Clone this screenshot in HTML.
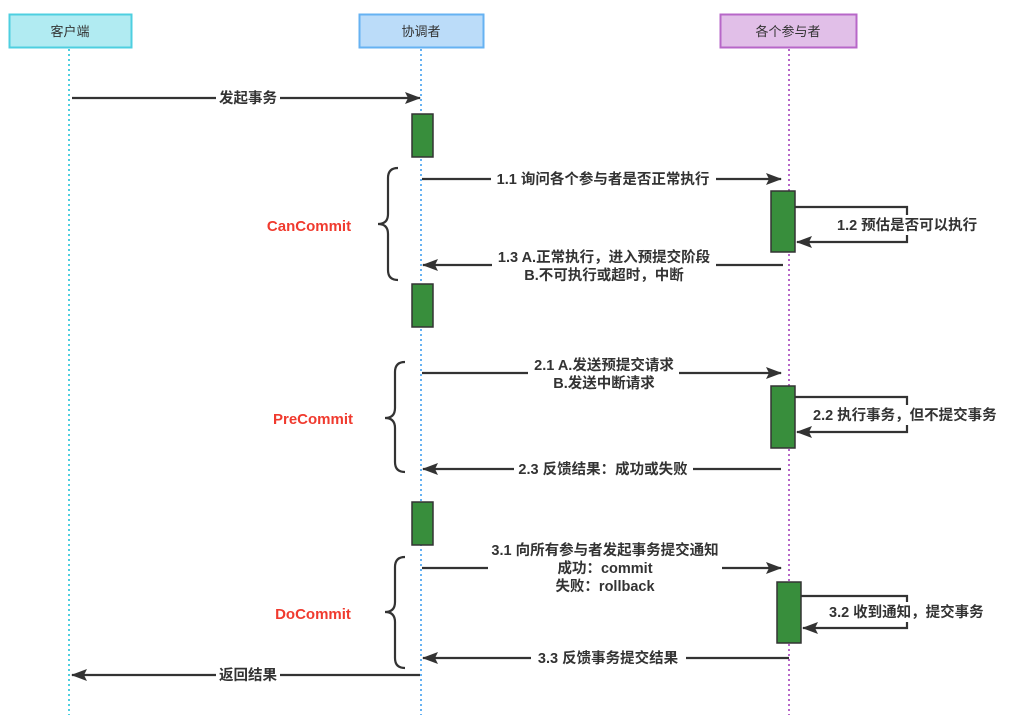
<!DOCTYPE html>
<html><head><meta charset="utf-8"><style>
html,body{margin:0;padding:0;background:#fff;}
svg{display:block;}
text{font-family:"Liberation Sans","Noto Sans CJK SC",sans-serif;font-size:13px;fill:#333;}
.b{font-weight:bold;font-size:14.5px;}
.r{fill:#f03a2e;font-weight:bold;font-size:15px;}
</style></head><body>
<svg width="1010" height="728" viewBox="0 0 1010 728" xmlns="http://www.w3.org/2000/svg">
<defs>
<marker id="a" markerWidth="16" markerHeight="12" refX="15" refY="6" orient="auto" markerUnits="userSpaceOnUse">
<path d="M0,0 L16,6 L0,12 L3,6 Z" fill="#333"/>
</marker>
</defs>
<rect x="9.5" y="14.5" width="122" height="33" fill="#b1ebf2" stroke="#4ecfe0" stroke-width="2"/>
<text x="70" y="36" text-anchor="middle">客户端</text>
<rect x="359.5" y="14.5" width="124" height="33" fill="#bbdcf9" stroke="#66b2f2" stroke-width="2"/>
<text x="421" y="36" text-anchor="middle">协调者</text>
<rect x="720.5" y="14.5" width="136" height="33" fill="#e1bfe8" stroke="#b767c8" stroke-width="2"/>
<text x="788" y="36" text-anchor="middle">各个参与者</text>
<line x1="69" y1="49" x2="69" y2="715" stroke="#4ecfe0" stroke-width="2" stroke-dasharray="2,3"/>
<line x1="421" y1="49" x2="421" y2="715" stroke="#66b2f2" stroke-width="2" stroke-dasharray="2,3"/>
<line x1="789" y1="49" x2="789" y2="715" stroke="#b767c8" stroke-width="2" stroke-dasharray="2,3"/>
<g fill="#388e3c" stroke="#333" stroke-width="1.5">
<rect x="412" y="114" width="21" height="43"/>
<rect x="412" y="284" width="21" height="43"/>
<rect x="412" y="502" width="21" height="43"/>
<rect x="771" y="191" width="24" height="61"/>
<rect x="771" y="386" width="24" height="62"/>
<rect x="777" y="582" width="24" height="61"/>
</g>
<g stroke="#333" stroke-width="2.2" fill="none">
<line x1="72" y1="98" x2="420" y2="98" marker-end="url(#a)"/>
<line x1="422" y1="179" x2="781" y2="179" marker-end="url(#a)"/>
<polyline points="795,207 907,207 907,242 797,242" marker-end="url(#a)"/>
<line x1="783" y1="265" x2="423" y2="265" marker-end="url(#a)"/>
<line x1="422" y1="373" x2="781" y2="373" marker-end="url(#a)"/>
<polyline points="795,397 907,397 907,432 797,432" marker-end="url(#a)"/>
<line x1="781" y1="469" x2="423" y2="469" marker-end="url(#a)"/>
<line x1="422" y1="568" x2="488" y2="568"/>
<line x1="722" y1="568" x2="781" y2="568" marker-end="url(#a)"/>
<polyline points="801,596 907,596 907,628 803,628" marker-end="url(#a)"/>
<line x1="789" y1="658" x2="423" y2="658" marker-end="url(#a)"/>
<line x1="420" y1="675" x2="72" y2="675" marker-end="url(#a)"/>
<path d="M398,168 Q388,168 388,178 L388,214 Q388,224 378,224 Q388,224 388,234 L388,270 Q388,280 398,280"/>
<path d="M405,362 Q395,362 395,372 L395,408 Q395,418 385,418 Q395,418 395,428 L395,462 Q395,472 405,472"/>
<path d="M405,557 Q395,557 395,567 L395,602 Q395,612 385,612 Q395,612 395,622 L395,658 Q395,668 405,668"/>
</g>
<g fill="#fff">
<rect x="216" y="89" width="64" height="18"/>
<rect x="491" y="170" width="225" height="18"/>
<rect x="832" y="215" width="150" height="20"/>
<rect x="492" y="247" width="224" height="36"/>
<rect x="528" y="355" width="151" height="36"/>
<rect x="808" y="405" width="196" height="20"/>
<rect x="514" y="460" width="179" height="18"/>
<rect x="824" y="602" width="168" height="20"/>
<rect x="531" y="649" width="155" height="18"/>
<rect x="216" y="666" width="64" height="18"/>
</g>
<text x="248" y="103" text-anchor="middle" class="b">发起事务</text>
<text x="603" y="184" text-anchor="middle" class="b">1.1 询问各个参与者是否正常执行</text>
<text x="837" y="230" class="b">1.2 预估是否可以执行</text>
<text x="604" y="262" text-anchor="middle" class="b">1.3 A.正常执行，进入预提交阶段</text>
<text x="604" y="280" text-anchor="middle" class="b">B.不可执行或超时，中断</text>
<text x="309" y="231" text-anchor="middle" class="r">CanCommit</text>
<text x="604" y="370" text-anchor="middle" class="b">2.1 A.发送预提交请求</text>
<text x="604" y="388" text-anchor="middle" class="b">B.发送中断请求</text>
<text x="813" y="420" class="b">2.2 执行事务，但不提交事务</text>
<text x="603" y="474" text-anchor="middle" class="b">2.3 反馈结果：成功或失败</text>
<text x="313" y="424" text-anchor="middle" class="r">PreCommit</text>
<text x="605" y="555" text-anchor="middle" class="b">3.1 向所有参与者发起事务提交通知</text>
<text x="605" y="573" text-anchor="middle" class="b">成功：commit</text>
<text x="605" y="591" text-anchor="middle" class="b">失败：rollback</text>
<text x="829" y="617" class="b">3.2 收到通知，提交事务</text>
<text x="608" y="663" text-anchor="middle" class="b">3.3 反馈事务提交结果</text>
<text x="313" y="619" text-anchor="middle" class="r">DoCommit</text>
<text x="248" y="680" text-anchor="middle" class="b">返回结果</text>
</svg>
</body></html>
